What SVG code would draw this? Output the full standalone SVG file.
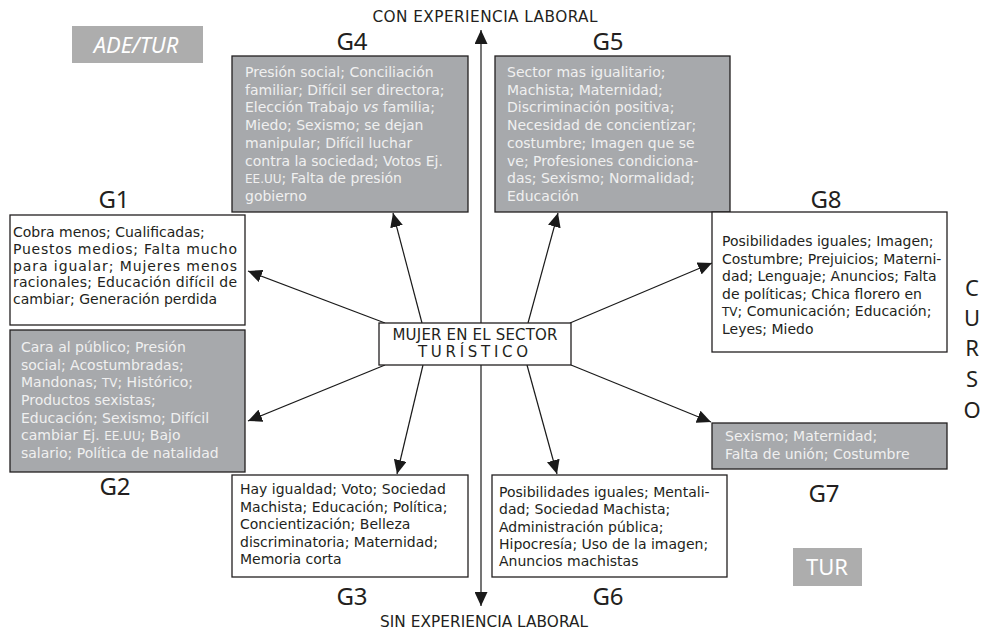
<svg xmlns="http://www.w3.org/2000/svg" width="983" height="632" viewBox="0 0 983 632">
<defs>
<marker id="ah" markerWidth="14" markerHeight="13" refX="14" refY="6.5" orient="auto-start-reverse" markerUnits="userSpaceOnUse"><path d="M0,0 L14,6.5 L0,13 z" fill="#1a1a1a"/></marker>
<style>
text { font-family: "Noto Sans", "Liberation Sans", sans-serif; fill: #231f20; }
.lbl { font-size: 24px; text-anchor: middle; }
.axis { font-family: "DejaVu Sans", "Liberation Sans", sans-serif; font-size: 15.3px; text-anchor: middle; }
.body { font-family: "DejaVu Sans", "Liberation Sans", sans-serif; font-size: 14px; }
.sc { font-size: 12px; }
.wt { fill: #f0f0f0; }
.gbox { fill: #a7a9ac; stroke: #231f20; stroke-width: 1.3; }
.wbox { fill: #ffffff; stroke: #231f20; stroke-width: 1.3; }
.tag { fill: #adadad; }
.tagt { fill: #ffffff; font-size: 22px; text-anchor: middle; }
.conn { stroke: #1a1a1a; stroke-width: 1.2; fill: none; marker-end: url(#ah); }
.curso { font-size: 22px; text-anchor: middle; }
.ctr { font-family: "DejaVu Sans", "Liberation Sans", sans-serif; font-size: 15px; text-anchor: middle; }
</style>
</defs>
<rect width="983" height="632" fill="#ffffff"/>

<text class="axis" x="485" y="22" textLength="225" lengthAdjust="spacing">CON EXPERIENCIA LABORAL</text>
<text class="axis" x="484" y="627" textLength="208" lengthAdjust="spacing">SIN EXPERIENCIA LABORAL</text>

<g id="tag-adetur"><rect class="tag" x="72" y="26" width="131" height="37"/><text class="tagt" x="136" y="53" font-style="italic">ADE/TUR</text></g>
<g id="tag-tur"><rect class="tag" x="793" y="548" width="69" height="38"/><text class="tagt" x="827" y="575">TUR</text></g>

<g id="curso">
<text class="curso" x="972" y="296">C</text>
<text class="curso" x="972" y="326">U</text>
<text class="curso" x="972" y="356">R</text>
<text class="curso" x="972" y="387">S</text>
<text class="curso" x="972" y="418">O</text>
</g>

<g id="connectors">
<path d="M481,30 L481,606" stroke="#1a1a1a" stroke-width="1.2" fill="none" marker-start="url(#ah)" marker-end="url(#ah)"/>
<path class="conn" d="M422,323 L393,213"/>
<path class="conn" d="M528,323 L558,213"/>
<path class="conn" d="M385,323 L248,271"/>
<path class="conn" d="M570,323 L712,263"/>
<path class="conn" d="M385,365 L248,421"/>
<path class="conn" d="M423,365 L397,474"/>
<path class="conn" d="M527,365 L557,474"/>
<path class="conn" d="M571,365 L711,422"/>
</g>

<g id="center">
<rect class="wbox" x="379" y="323" width="192" height="42"/>
<text class="ctr" x="475" y="340" textLength="165" lengthAdjust="spacing">MUJER EN EL SECTOR</text>
<text class="ctr" x="473" y="357" textLength="110" lengthAdjust="spacing">TURÍSTICO</text>
</g>

<g id="G4">
<text class="lbl" x="352" y="50">G4</text>
<rect class="gbox" x="232" y="56" width="236" height="156"/>
<text class="body wt" x="245" y="77">Presión social; Conciliación</text>
<text class="body wt" x="245" y="94.7">familiar; Difícil ser directora;</text>
<text class="body wt" x="245" y="112.4">Elección Trabajo <tspan font-style="italic" class="wt">vs</tspan> familia;</text>
<text class="body wt" x="245" y="130.1">Miedo; Sexismo; se dejan</text>
<text class="body wt" x="245" y="147.8">manipular; Difícil luchar</text>
<text class="body wt" x="245" y="165.5">contra la sociedad; Votos Ej.</text>
<text class="body wt" x="245" y="183.2"><tspan class="sc wt">EE.UU</tspan>; Falta de presión</text>
<text class="body wt" x="245" y="200.9">gobierno</text>
</g>

<g id="G5">
<text class="lbl" x="608" y="50">G5</text>
<rect class="gbox" x="495" y="56" width="235" height="156"/>
<text class="body wt" x="507" y="77">Sector mas igualitario;</text>
<text class="body wt" x="507" y="94.7">Machista; Maternidad;</text>
<text class="body wt" x="507" y="112.4">Discriminación positiva;</text>
<text class="body wt" x="507" y="130.1">Necesidad de concientizar;</text>
<text class="body wt" x="507" y="147.8">costumbre; Imagen que se</text>
<text class="body wt" x="507" y="165.5">ve; Profesiones condiciona-</text>
<text class="body wt" x="507" y="183.2">das; Sexismo; Normalidad;</text>
<text class="body wt" x="507" y="200.9">Educación</text>
</g>

<g id="G1">
<text class="lbl" x="114" y="208">G1</text>
<rect class="wbox" x="10" y="215" width="235" height="110"/>
<text class="body" x="13" y="237">Cobra menos; Cualificadas;</text>
<text class="body" x="13" y="253.75" textLength="224" lengthAdjust="spacing">Puestos medios; Falta mucho</text>
<text class="body" x="13" y="270.5" textLength="224" lengthAdjust="spacing">para igualar; Mujeres menos</text>
<text class="body" x="13" y="287.25" textLength="224" lengthAdjust="spacing">racionales; Educación difícil de</text>
<text class="body" x="13" y="304">cambiar; Generación perdida</text>
</g>

<g id="G8">
<text class="lbl" x="826" y="208">G8</text>
<rect class="wbox" x="712" y="212" width="235" height="140"/>
<text class="body" x="722" y="246">Posibilidades iguales; Imagen;</text>
<text class="body" x="722" y="263.5">Costumbre; Prejuicios; Materni-</text>
<text class="body" x="722" y="281">dad; Lenguaje; Anuncios; Falta</text>
<text class="body" x="722" y="298.5">de políticas; Chica florero en</text>
<text class="body" x="722" y="316"><tspan class="sc">TV</tspan>; Comunicación; Educación;</text>
<text class="body" x="722" y="333.5">Leyes; Miedo</text>
</g>

<g id="G2">
<rect class="gbox" x="10" y="330" width="235" height="142"/>
<text class="body wt" x="21" y="352">Cara al público; Presión</text>
<text class="body wt" x="21" y="369.7">social; Acostumbradas;</text>
<text class="body wt" x="21" y="387.3">Mandonas; <tspan class="sc wt">TV</tspan>; Histórico;</text>
<text class="body wt" x="21" y="405">Productos sexistas;</text>
<text class="body wt" x="21" y="422.7">Educación; Sexismo; Difícil</text>
<text class="body wt" x="21" y="440.3">cambiar Ej. <tspan class="sc wt">EE.UU</tspan>; Bajo</text>
<text class="body wt" x="21" y="458">salario; Política de natalidad</text>
<text class="lbl" x="115" y="495">G2</text>
</g>

<g id="G7">
<rect class="gbox" x="712" y="423" width="235" height="46"/>
<text class="body wt" x="725" y="441">Sexismo; Maternidad;</text>
<text class="body wt" x="725" y="459">Falta de unión; Costumbre</text>
<text class="lbl" x="824" y="502">G7</text>
</g>

<g id="G3">
<rect class="wbox" x="232" y="475" width="236" height="102"/>
<text class="body" x="240" y="494">Hay igualdad; Voto; Sociedad</text>
<text class="body" x="240" y="511.5">Machista; Educación; Política;</text>
<text class="body" x="240" y="529">Concientización; Belleza</text>
<text class="body" x="240" y="546.5">discriminatoria; Maternidad;</text>
<text class="body" x="240" y="564">Memoria corta</text>
<text class="lbl" x="352" y="605">G3</text>
</g>

<g id="G6">
<rect class="wbox" x="492" y="475" width="235" height="102"/>
<text class="body" x="499" y="497">Posibilidades iguales; Mentali-</text>
<text class="body" x="499" y="514.25">dad; Sociedad Machista;</text>
<text class="body" x="499" y="531.5">Administración pública;</text>
<text class="body" x="499" y="548.75">Hipocresía; Uso de la imagen;</text>
<text class="body" x="499" y="566">Anuncios machistas</text>
<text class="lbl" x="608" y="605">G6</text>
</g>
</svg>
